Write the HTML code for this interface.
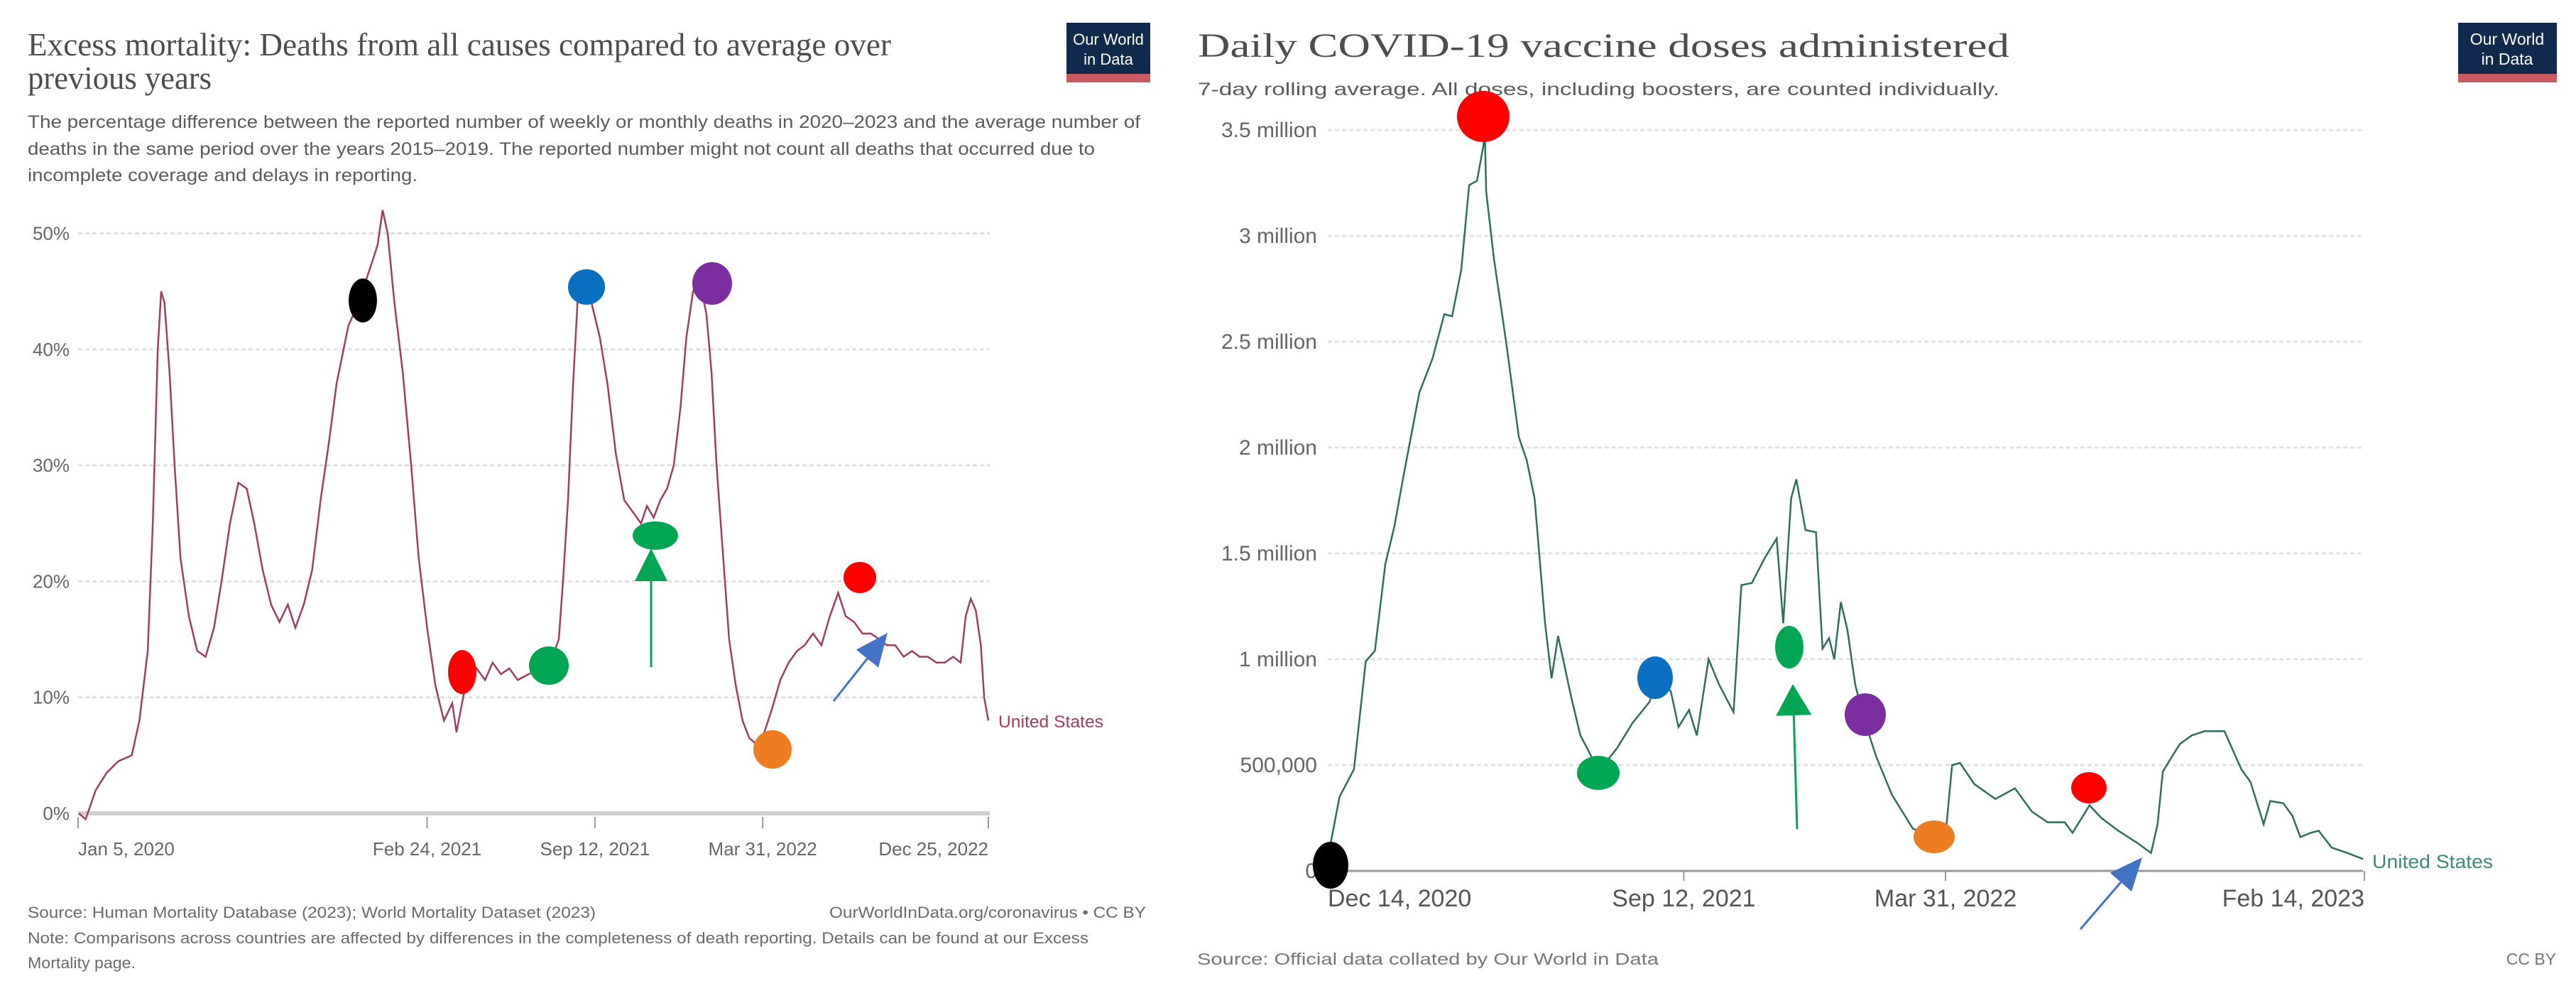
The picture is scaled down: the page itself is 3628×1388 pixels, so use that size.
<!DOCTYPE html>
<html><head><meta charset="utf-8"><style>
html,body{margin:0;padding:0;background:#fff}
svg{display:block}
text{font-family:"Liberation Sans",sans-serif}
.serif{font-family:"Liberation Serif",serif}
</style></head><body>
<svg id="svg" width="3628" height="1388" viewBox="0 0 3628 1388" xmlns="http://www.w3.org/2000/svg">
<rect width="3628" height="1388" fill="#fff"/>
<!-- LEFT PANEL -->
<g>
<text class="serif" x="39" y="78" font-size="46" fill="#4d4d4d" textLength="1216" lengthAdjust="spacingAndGlyphs">Excess mortality: Deaths from all causes compared to average over</text>
<text class="serif" x="39" y="125" font-size="46" fill="#4d4d4d" textLength="259" lengthAdjust="spacingAndGlyphs">previous years</text>
<text x="39" y="180" font-size="25" fill="#5b5b5b" textLength="1567" lengthAdjust="spacingAndGlyphs">The percentage difference between the reported number of weekly or monthly deaths in 2020–2023 and the average number of</text>
<text x="39" y="218" font-size="25" fill="#5b5b5b" textLength="1503" lengthAdjust="spacingAndGlyphs">deaths in the same period over the years 2015–2019. The reported number might not count all deaths that occurred due to</text>
<text x="39" y="255" font-size="25" fill="#5b5b5b" textLength="549" lengthAdjust="spacingAndGlyphs">incomplete coverage and delays in reporting.</text>
<g>
<rect x="1502" y="32" width="118" height="76" fill="#102a4e"/>
<rect x="1502" y="104" width="118" height="12" fill="#c9585f"/>
<text x="1561" y="63" font-size="22" fill="#fff" text-anchor="middle">Our World</text>
<text x="1561" y="91" font-size="22" fill="#fff" text-anchor="middle">in Data</text>
</g>
<g id="lgrid"></g>
<path id="lline" fill="none" stroke="#9e3f61" stroke-width="2.5"/>
<text x="1406" y="1024" font-size="24" fill="#9e3f61" textLength="148" lengthAdjust="spacingAndGlyphs">United States</text>
<text x="39" y="1292" font-size="22" fill="#6b6b6b" textLength="800" lengthAdjust="spacingAndGlyphs">Source: Human Mortality Database (2023); World Mortality Dataset (2023)</text>
<text x="1614" y="1292" font-size="22" fill="#6b6b6b" text-anchor="end" textLength="446" lengthAdjust="spacingAndGlyphs">OurWorldInData.org/coronavirus • CC BY</text>
<text x="39" y="1328" font-size="22" fill="#6b6b6b" textLength="1494" lengthAdjust="spacingAndGlyphs">Note: Comparisons across countries are affected by differences in the completeness of death reporting. Details can be found at our Excess</text>
<text x="39" y="1363" font-size="22" fill="#6b6b6b" textLength="152" lengthAdjust="spacingAndGlyphs">Mortality page.</text>
</g>
<!-- RIGHT PANEL -->
<g>
<text class="serif" x="1687" y="80" font-size="48" fill="#4d4d4d" textLength="1143" lengthAdjust="spacingAndGlyphs">Daily COVID-19 vaccine doses administered</text>
<text x="1687" y="134" font-size="25" fill="#5b5b5b" textLength="1129" lengthAdjust="spacingAndGlyphs">7-day rolling average. All doses, including boosters, are counted individually.</text>
<g>
<rect x="3462" y="32" width="139" height="76" fill="#102a4e"/>
<rect x="3462" y="104" width="139" height="12" fill="#c9585f"/>
<text x="3531" y="63" font-size="23" fill="#fff" text-anchor="middle">Our World</text>
<text x="3531" y="91" font-size="23" fill="#fff" text-anchor="middle">in Data</text>
</g>
<g id="rgrid"></g>
<path id="rline" fill="none" stroke="#2f6e5c" stroke-width="2.5"/>
<text x="3341" y="1222" font-size="27" fill="#3e8a74" textLength="170" lengthAdjust="spacingAndGlyphs">United States</text>
<text x="1686" y="1358" font-size="23" fill="#777" textLength="650" lengthAdjust="spacingAndGlyphs">Source: Official data collated by Our World in Data</text>
<text x="3600" y="1358" font-size="23" fill="#777" text-anchor="end">CC BY</text>
</g>
<g id="marks"></g>
</svg>
<script>
// LEFT chart data: days since Jan 5, 2020 ; excess mortality %
const leftDays=[1,9,21,34,48,64,73,83,89,95,99,103,109,115,122,132,142,152,162,171,181,191,201,210,220,230,240,250,259,269,279,289,299,308,322,334,348,357,363,369,377,387,397,406,416,426,436,446,451,459,465,475,485,494,504,514,524,537,553,563,573,578,584,590,596,604,612,622,631,641,651,661,671,678,686,694,702,710,718,725,733,741,749,755,761,769,776,784,792,800,808,818,827,837,847,857,866,876,886,896,906,915,925,935,945,955,964,974,984,994,1003,1013,1023,1033,1043,1052,1058,1064,1070,1076,1080,1085];
const leftVals=[0,-0.5,2,3.5,4.5,5,8,14,25,40,45,44,38,30,22,17,14,13.5,16,20,25,28.5,28,25,21,18,16.5,18,16,18,21,27,32,37,42,44,47,49,52,50,44,38,30,22,16,11,8,9.5,7,10,12,12.5,11.5,13,12,12.5,11.5,12,12.5,13,15,20,27,37,45,46,44,41,37,31,27,26,25,26.5,25.5,27,28,30,35,41,45,46,43,38,30,22,15,11,8,6.5,6,7,9,11.5,13,14,14.5,15.5,14.5,17,19,17,16.5,15.5,15.5,15,14.5,14.5,13.5,14,13.5,13.5,13,13,13.5,13,17,18.5,17.5,14.5,10,8];
const leftYTicks=[0,10,20,30,40,50];
const leftYLabels=["0%","10%","20%","30%","40%","50%"];
const leftXTickDays=[0,416,616,816,1085];
const leftXLabels=["Jan 5, 2020","Feb 24, 2021","Sep 12, 2021","Mar 31, 2022","Dec 25, 2022"];
// RIGHT chart data: days since Dec 14, 2020 ; doses (millions)
const rightDays=[0,9,20,29,36,44,51,58,70,80,89,95,102,108,114,119,120,121,127,136,146,152,158,166,171,176,186,193,199,207,221,233,246,250,262,268,276,282,291,299,310,316,324,334,343,348,354,358,365,373,378,383,387,392,397,403,409,419,431,447,462,472,477,483,494,510,525,538,550,563,569,582,591,604,619,629,634,638,651,660,670,685,698,705,715,720,730,737,743,751,757,767,779,791];
const rightVals=[0.06,0.35,0.48,0.99,1.04,1.45,1.63,1.87,2.26,2.42,2.63,2.62,2.84,3.24,3.26,3.43,3.5,3.21,2.89,2.51,2.05,1.94,1.76,1.17,0.91,1.11,0.82,0.64,0.57,0.47,0.58,0.70,0.80,0.91,0.85,0.68,0.76,0.64,1.0,0.88,0.75,1.35,1.36,1.48,1.57,1.17,1.76,1.85,1.61,1.60,1.05,1.10,1.0,1.27,1.14,0.88,0.73,0.54,0.36,0.20,0.16,0.17,0.50,0.51,0.41,0.34,0.39,0.28,0.23,0.23,0.18,0.31,0.25,0.19,0.13,0.085,0.22,0.47,0.60,0.64,0.66,0.66,0.48,0.42,0.22,0.33,0.32,0.26,0.16,0.18,0.19,0.11,0.085,0.056];
const rightYTicks=[0,0.5,1,1.5,2,2.5,3,3.5];
const rightYLabels=["0","500,000","1 million","1.5 million","2 million","2.5 million","3 million","3.5 million"];
const rightXTickDays=[0,272,472,792];
const rightXLabels=["Dec 14, 2020","Sep 12, 2021","Mar 31, 2022","Feb 14, 2023"];

const NS="http://www.w3.org/2000/svg";
function mk(tag,attrs,parent,txt){const e=document.createElementNS(NS,tag);for(const k in attrs)e.setAttribute(k,attrs[k]);if(txt!==undefined)e.textContent=txt;parent.appendChild(e);return e;}
// axes
const lx=d=>110+d/1085*1282;
const ly=v=>1145-v*16.33;
const rx=d=>1870+d/792*1460;
const ry=v=>1226-v*298;

const lg=document.getElementById('lgrid');
leftYTicks.forEach((t,i)=>{
  const l=mk('line',{x1:110,x2:1394,y1:ly(t),y2:ly(t),stroke:t===0?'#d0d0d0':'#e0e0e0','stroke-width':t===0?6:3,'stroke-dasharray':t===0?'none':'6 4'},lg);
  
  
  const tx=mk('text',{x:98,y:ly(t)+9,'font-size':26,fill:'#666','text-anchor':'end'},lg,leftYLabels[i]);
  
  
});
leftXTickDays.forEach((d,i)=>{
  const l=mk('line',{x1:lx(d),x2:lx(d),y1:1150,y2:1166,stroke:'#999','stroke-width':2},lg);
  
  
  const anchor=i===0?'start':(i===leftXTickDays.length-1?'end':'middle');
  const tx=mk('text',{x:lx(d),y:1204,'font-size':26,fill:'#666','text-anchor':anchor},lg,leftXLabels[i]);
  
  
});
document.getElementById('lline').setAttribute('d',leftDays.map((d,i)=>(i?'L':'M')+lx(d).toFixed(1)+','+ly(leftVals[i]).toFixed(1)).join(''));

const rg=document.getElementById('rgrid');
rightYTicks.forEach((t,i)=>{
  const l=mk('line',{x1:1870,x2:3328,y1:ry(t),y2:ry(t),stroke:t===0?'#999':'#e2e2e2','stroke-width':t===0?3:3,'stroke-dasharray':t===0?'none':'6 4'},rg);
  
  
  const tx=mk('text',{x:1855,y:ry(t)+10,'font-size':30,fill:'#666','text-anchor':'end'},rg,rightYLabels[i]);
  
  
});
rightXTickDays.forEach((d,i)=>{
  const l=mk('line',{x1:rx(d),x2:rx(d),y1:1226,y2:1240,stroke:'#999','stroke-width':2},rg);
  
  
  const anchor=i===0?'start':(i===rightXTickDays.length-1?'end':'middle');
  const tx=mk('text',{x:rx(d),y:1276,'font-size':34,fill:'#555','text-anchor':anchor},rg,rightXLabels[i]);
  
  
});
document.getElementById('rline').setAttribute('d',rightDays.map((d,i)=>(i?'L':'M')+rx(d).toFixed(1)+','+ry(rightVals[i]).toFixed(1)).join(''));

// annotation markers
const marks=document.getElementById('marks');
const ells=[
 ['left-black-dot',511,423,20,31,'#000'],['left-blue-dot',826,404,26,25,'#0b6fc2'],['left-purple-dot',1003,399,28,30,'#7a2ea0'],
 ['left-green-arrow-dot',923,754,32,20,'#00a651'],['left-red-dot',651,946,20,31,'#f00'],['left-green-dot',773,937,28,27,'#00a651'],
 ['left-red-dot-2',1211,813,23,22,'#f00'],['left-orange-dot',1088,1055,27,27,'#ee7d22'],
 ['right-black-dot',1874,1218,25,33,'#000'],['right-red-dot',2089,164,37,36,'#f00'],['right-green-dot',2251,1088,30,24,'#00a651'],
 ['right-blue-dot',2331,954,25,30,'#0b6fc2'],['right-green-arrow-dot',2520,911,20,30,'#00a651'],['right-purple-dot',2627,1006,29,30,'#7a2ea0'],
 ['right-orange-dot',2724,1178,29,23,'#ee7d22'],['right-red-dot-2',2942,1109,25,22,'#f00']];
ells.forEach(e=>{
  const el=mk('ellipse',{cx:e[1],cy:e[2],rx:e[3],ry:e[4],fill:e[5]},marks);
  
  
});
const arrows=[
 ['left-green-arrow','#00a651',917,939,917,772,23,46],
 ['left-blue-arrow','#4472c4',1174,987,1250,891,20,46],
 ['right-green-arrow','#00a651',2531,1167,2525,963,25,44],
 ['right-blue-arrow','#4472c4',2930,1308,3017,1207,20,46]];
arrows.forEach(a=>{
  const [n,c,x1,y1,x2,y2,hw,hl]=a;
  const g=mk('g',{},marks);
  
  
  const dx=x2-x1,dy=y2-y1,L=Math.hypot(dx,dy),ux=dx/L,uy=dy/L;
  const bx=x2-ux*hl,by=y2-uy*hl;
  mk('line',{x1:x1,y1:y1,x2:bx,y2:by,stroke:c,'stroke-width':3},g);
  mk('polygon',{points:`${x2},${y2} ${bx-uy*hw},${by+ux*hw} ${bx+uy*hw},${by-ux*hw}`,fill:c},g);
});
</script>
</body></html>
